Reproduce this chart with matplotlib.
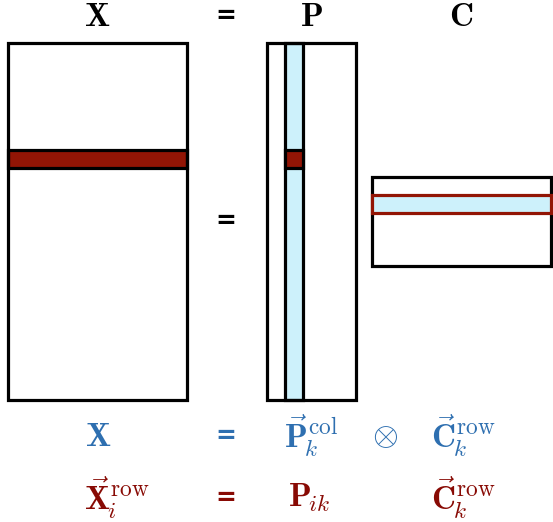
import matplotlib
matplotlib.use("Agg")
import matplotlib.pyplot as plt
from matplotlib.patches import Rectangle

plt.rcParams['mathtext.fontset'] = 'cm'

# matrix shapes (in cells) and the highlighted indices
n_rows = 20
n_cols = 10
rank = 5
i_row = 6
k_comp = 1

cell = 17.85
top = 43
x_left = 8
p_left = 267
c_left = 372
c_top = 177

black = 'black'
red = '#921505'
light_blue = '#cdf1fb'
txt_blue = '#2e6fb0'
txt_red = '#880a04'
lw = 2.3

fig = plt.figure(figsize=(5.53, 5.22), dpi=100)
ax = fig.add_axes([0, 0, 1, 1])
ax.set_xlim(0, 553)
ax.set_ylim(522, 0)
ax.axis('off')

# X matrix with row i
ax.add_patch(Rectangle((x_left, top + i_row * cell), n_cols * cell, cell,
                       facecolor=red, edgecolor=black, lw=lw))
ax.add_patch(Rectangle((x_left, top), n_cols * cell, n_rows * cell,
                       facecolor='none', edgecolor=black, lw=lw))

# P matrix with column k
ax.add_patch(Rectangle((p_left + k_comp * cell, top), cell, n_rows * cell,
                       facecolor=light_blue, edgecolor=black, lw=lw))
ax.add_patch(Rectangle((p_left + k_comp * cell, top + i_row * cell), cell, cell,
                       facecolor=red, edgecolor=black, lw=lw))
ax.add_patch(Rectangle((p_left, top), rank * cell, n_rows * cell,
                       facecolor='none', edgecolor=black, lw=lw))

# C matrix with row k
ax.add_patch(Rectangle((c_left, c_top), n_cols * cell, rank * cell,
                       facecolor='none', edgecolor=black, lw=lw))
ax.add_patch(Rectangle((c_left, c_top + k_comp * cell), n_cols * cell, cell,
                       facecolor=light_blue, edgecolor=red, lw=lw))

# titles
fs = 24
ax.text(x_left + n_cols * cell / 2, 16, r'$\mathbf{X}$', fontsize=fs, ha='center', va='center')
ax.text(226, 16, '=', fontsize=18, fontweight='bold', ha='center', va='center')
ax.text(p_left + rank * cell / 2, 16, r'$\mathbf{P}$', fontsize=fs, ha='center', va='center')
ax.text(c_left + n_cols * cell / 2, 16, r'$\mathbf{C}$', fontsize=fs, ha='center', va='center')
ax.text(226, 221, '=', fontsize=18, fontweight='bold', ha='center', va='center')

# equations
y1 = 436
y2 = 498
ax.text(98, y1, r'$\mathbf{X}$', fontsize=fs, color=txt_blue, ha='center', va='center')
ax.text(226, y1, '=', fontsize=18, fontweight='bold', color=txt_blue, ha='center', va='center')
ax.text(284, y1, r'$\vec{\mathbf{P}}_{\!k}^{\mathrm{col}}$', fontsize=fs, color=txt_blue, ha='left', va='center')
ax.text(385, y1, r'$\otimes$', fontsize=fs, color=txt_blue, ha='center', va='center')
ax.text(431, y1, r'$\vec{\mathbf{C}}_{\!k}^{\mathrm{row}}$', fontsize=fs, color=txt_blue, ha='left', va='center')

ax.text(84, y2, r'$\vec{\mathbf{X}}_{\!i}^{\mathrm{row}}$', fontsize=fs, color=txt_red, ha='left', va='center')
ax.text(226, y2, '=', fontsize=18, fontweight='bold', color=txt_red, ha='center', va='center')
ax.text(288, y2, r'$\mathbf{P}_{\!ik}$', fontsize=fs, color=txt_red, ha='left', va='center')
ax.text(431, y2, r'$\vec{\mathbf{C}}_{\!k}^{\mathrm{row}}$', fontsize=fs, color=txt_red, ha='left', va='center')

fig.savefig('out.png', dpi=100)
